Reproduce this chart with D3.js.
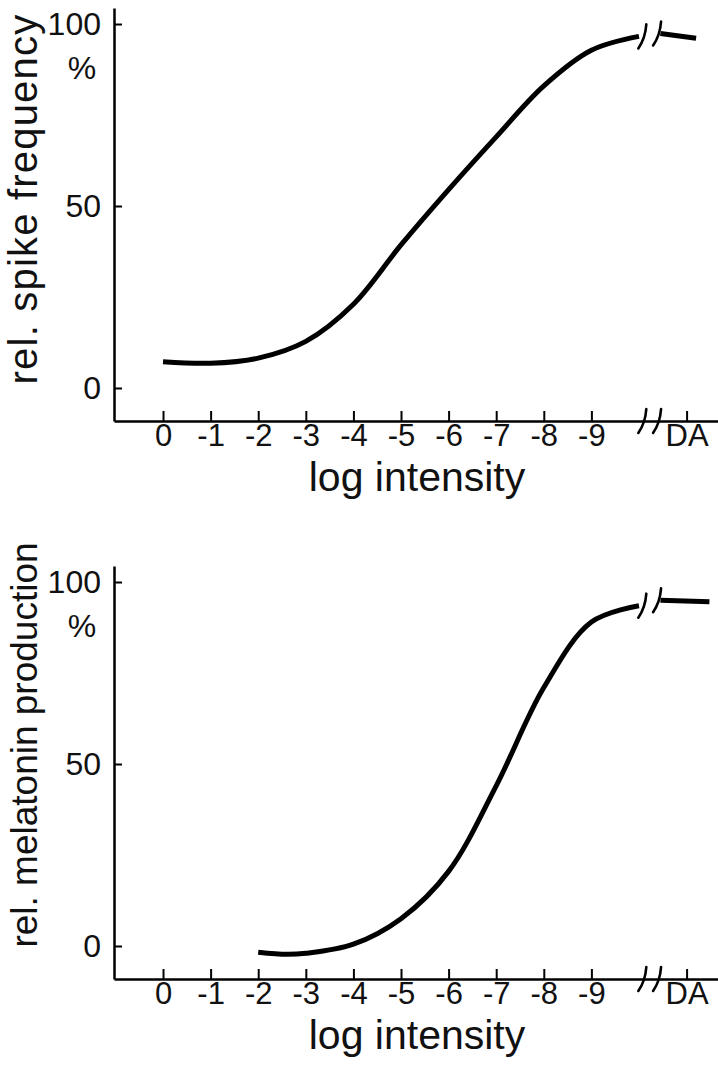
<!DOCTYPE html>
<html>
<head>
<meta charset="utf-8">
<script src="https://cdn.jsdelivr.net/npm/d3@7"></script>
<style>
  html, body { margin: 0; padding: 0; background: #fff; }
  svg { display: block; font-family: "Liberation Sans", Arial, Helvetica, sans-serif; }
</style>
</head>
<body>
<svg id="chart" width="718" height="1070"></svg>
<script>
// ---------- data ----------
const tickLogIntensity = [0, -1, -2, -3, -4, -5, -6, -7, -8, -9];
const tickLabels = ["0", "-1", "-2", "-3", "-4", "-5", "-6", "-7", "-8", "-9"];
const daLabel = "DA";
const daPosition = -11;          // where the dark-adapted point sits after the break
const breakPositions = [-10.07, -10.38];

// top panel: rel. spike frequency (%)
const spikeLogI   = [0, -1, -2, -3, -4, -5, -6, -7, -8, -9, -10];
const spikeValues = [7.2, 6.8, 8.2, 12.8, 23, 39.3, 54.5, 69, 83, 92.8, 96.6];
const spikeDALogI   = [-10.45, -11.2];
const spikeDAValues = [97.4, 96.1];

// bottom panel: rel. melatonin production (%)
const melLogI   = [-2, -2.6, -3, -4, -5, -6, -7, -8, -9, -10];
const melValues = [-1.7, -2.3, -2.0, 0.5, 7.5, 20.5, 44, 71, 89, 93.5];
const melDALogI   = [-10.45, -11.48];
const melDAValues = [95.0, 94.6];

const yTicks = [0, 50, 100];

// ---------- drawing ----------
const svg = d3.select("#chart");
const x = d3.scaleLinear().domain([1.03, -11.66]).range([114, 718]);
const TICK_FONT = 31;

function breakMark(g, cx, cy, h) {
  g.append("path")
    .attr("d", `M${cx - 4},${cy + h} Q${cx + 3},${cy + 2} ${cx + 4},${cy - h}`)
    .attr("fill", "none").attr("stroke", "#000").attr("stroke-width", 2.6)
    .attr("stroke-linecap", "round");
}

function panel(offsetY, logI, vals, daLogI, daVals, yLabel, yLabelSize, yLabelSpacing, yLabelCenter) {
  const g = svg.append("g").attr("transform", `translate(0,${offsetY})`);
  const y = d3.scaleLinear().domain([-9.07, 104.4]).range([421, 8]);

  // y axis
  const ya = g.append("g").attr("transform", "translate(114,0)")
    .call(d3.axisLeft(y).tickValues(yTicks).tickSize(-8).tickSizeOuter(0).tickPadding(13));
  ya.attr("font-size", null).attr("font-family", null);
  ya.select(".domain").attr("stroke-width", 2.5);
  ya.selectAll(".tick line").attr("stroke-width", 2);
  ya.selectAll(".tick text").attr("font-size", 32).attr("fill", "#111");

  g.append("text").attr("x", 82).attr("y", y(100) + 44).attr("dy", "0.35em")
    .attr("text-anchor", "middle").attr("font-size", 32).attr("fill", "#111").text("%");

  // x axis
  const xa = g.append("g").attr("transform", `translate(0,${y.range()[0]})`)
    .call(d3.axisBottom(x).tickValues(tickLogIntensity.concat([daPosition]))
      .tickFormat((d, i) => i < tickLabels.length ? tickLabels[i] : daLabel)
      .tickSize(-10).tickSizeOuter(0).tickPadding(3));
  xa.attr("font-size", null).attr("font-family", null);
  xa.select(".domain").attr("stroke-width", 2.5);
  xa.selectAll(".tick line").attr("stroke-width", 2);
  xa.selectAll(".tick text").attr("font-size", TICK_FONT).attr("fill", "#111");

  // axis break
  breakPositions.forEach(b => breakMark(xa, x(b), 0, 12));

  // axis titles
  g.append("text").attr("x", 417).attr("y", 491)
    .attr("text-anchor", "middle").attr("font-size", 41).attr("fill", "#111").text("log intensity");
  g.append("text")
    .attr("transform", `translate(37,${yLabelCenter}) rotate(-90)`)
    .attr("text-anchor", "middle").attr("font-size", yLabelSize)
    .attr("letter-spacing", yLabelSpacing).attr("fill", "#111").text(yLabel);

  // curves
  const line = d3.line().x(d => x(d[0])).y(d => y(d[1])).curve(d3.curveCatmullRom.alpha(0.5));
  g.append("path").datum(logI.map((v, i) => [v, vals[i]]))
    .attr("d", line).attr("fill", "none").attr("stroke", "#000").attr("stroke-width", 5);
  g.append("path").datum(daLogI.map((v, i) => [v, daVals[i]]))
    .attr("d", line).attr("fill", "none").attr("stroke", "#000").attr("stroke-width", 5);

  // curve break marks
  breakMark(g, x(breakPositions[0]), y(vals[vals.length - 1]), 12);
  breakMark(g, x(breakPositions[1]), y(daVals[0]), 12);
}

panel(0, spikeLogI, spikeValues, spikeDALogI, spikeDAValues, "rel. spike frequency", 40, 1.2, 199);
panel(558, melLogI, melValues, melDALogI, melDAValues, "rel. melatonin production", 37, 0, 187);
</script>
</body>
</html>
